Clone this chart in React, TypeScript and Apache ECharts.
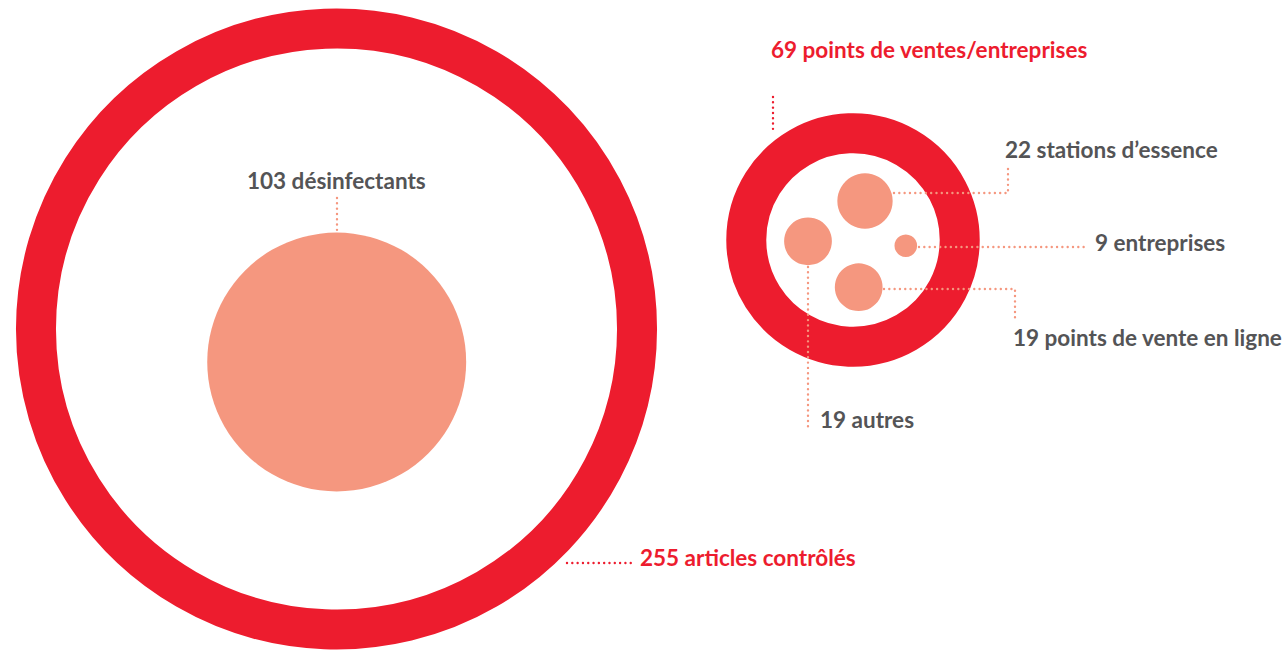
import React, { useEffect, useRef } from "react";
import * as echarts from "echarts";

// ---- Data ----
const ringLabels = ["255 articles contrôlés", "69 points de ventes/entreprises"];
const ringValues = [255, 69];
const circleLabels = [
  "103 désinfectants",
  "22 stations d’essence",
  "9 entreprises",
  "19 points de vente en ligne",
  "19 autres",
];
const circleValues = [103, 22, 9, 19, 19];

// ---- Layout (pixel-like coordinates on hidden axes) ----
const W = 1287;
const H = 652;
const PX_PER_UNIT = 1.257; // radius per unit value
const RING_WIDTH = 40;
// big ring: value gives outer radius; small ring: value gives inner radius
const ringAnchor = ["outer", "inner"];
const ringCenters = [
  [336.5, 329],
  [853, 240],
];
const circleCenters = [
  [336.7, 362],
  [865, 201],
  [905.8, 245.7],
  [858.7, 287.2],
  [808, 241.3],
];
const ringLabelPos = [
  [640, 557],
  [771, 49],
];
const circleLabelPos = [
  [247, 180],
  [1005, 149],
  [1095, 242],
  [1013, 337],
  [820, 419],
];
const ringLeaders = [
  [
    [567, 563],
    [636, 563],
  ],
  [
    [773, 97],
    [773, 129],
  ],
];
const circleLeaders = [
  [
    [337, 198],
    [337, 230],
  ],
  [
    [894, 193],
    [1008, 193],
    [1008, 164],
  ],
  [
    [919, 247],
    [1086, 247],
  ],
  [
    [884, 289],
    [1015, 289],
    [1015, 321],
  ],
  [
    [808, 267],
    [808, 428],
  ],
];

const RED = "#ED1C2E";
const PINK = "#F5977F";
const GREY = "#545456";
const FONT = "Lato";

export default function App() {
  const ref = useRef<HTMLDivElement>(null);

  useEffect(() => {
    document.body.style.margin = "0";
    document.body.style.overflow = "hidden";
    const chart = echarts.init(ref.current!, null, { renderer: "svg" });

    const ringData = ringValues.map((v, i) => {
      const r = v * PX_PER_UNIT;
      const strokeR = ringAnchor[i] === "outer" ? r - RING_WIDTH / 2 : r + RING_WIDTH / 2;
      return { value: [ringCenters[i][0], ringCenters[i][1]], symbolSize: strokeR * 2, name: ringLabels[i] };
    });
    const circleData = circleValues.map((v, i) => ({
      value: [circleCenters[i][0], circleCenters[i][1]],
      symbolSize: v * PX_PER_UNIT * 2,
      name: circleLabels[i],
    }));

    const leaderData = [
      ...ringLeaders.map((c) => ({ coords: c, lineStyle: { color: RED } })),
      ...circleLeaders.map((c) => ({ coords: c, lineStyle: { color: PINK } })),
    ];

    const texts = [
      ...ringLabels.map((t, i) => ({ t, p: ringLabelPos[i], c: RED })),
      ...circleLabels.map((t, i) => ({ t, p: circleLabelPos[i], c: GREY })),
    ];

    chart.setOption({
      animation: false,
      backgroundColor: "#ffffff",
      grid: { left: 0, right: 0, top: 0, bottom: 0 },
      xAxis: { type: "value", min: 0, max: W, show: false },
      yAxis: { type: "value", min: 0, max: H, inverse: true, show: false },
      series: [
        {
          type: "scatter",
          symbol: "circle",
          data: ringData,
          itemStyle: { color: "#ffffff", borderColor: RED, borderWidth: RING_WIDTH, opacity: 1 },
          silent: true,
          z: 1,
        },
        {
          type: "scatter",
          symbol: "circle",
          data: circleData,
          itemStyle: { color: PINK, opacity: 1 },
          silent: true,
          z: 2,
        },
        {
          type: "lines",
          coordinateSystem: "cartesian2d",
          polyline: true,
          data: leaderData,
          lineStyle: { width: 2.4, type: [0.01, 5.3], opacity: 1, cap: "round" },
          silent: true,
          z: 3,
        },
      ],
      graphic: texts.map((o) => ({
        type: "text",
        x: o.p[0],
        y: o.p[1],
        style: {
          text: o.t,
          fill: o.c,
          font: `bold 22.5px ${FONT}`,
          textVerticalAlign: "middle",
          verticalAlign: "middle",
        },
        z: 10,
      })),
    });

    return () => chart.dispose();
  }, []);

  return <div ref={ref} style={{ width: W, height: H }} />;
}
